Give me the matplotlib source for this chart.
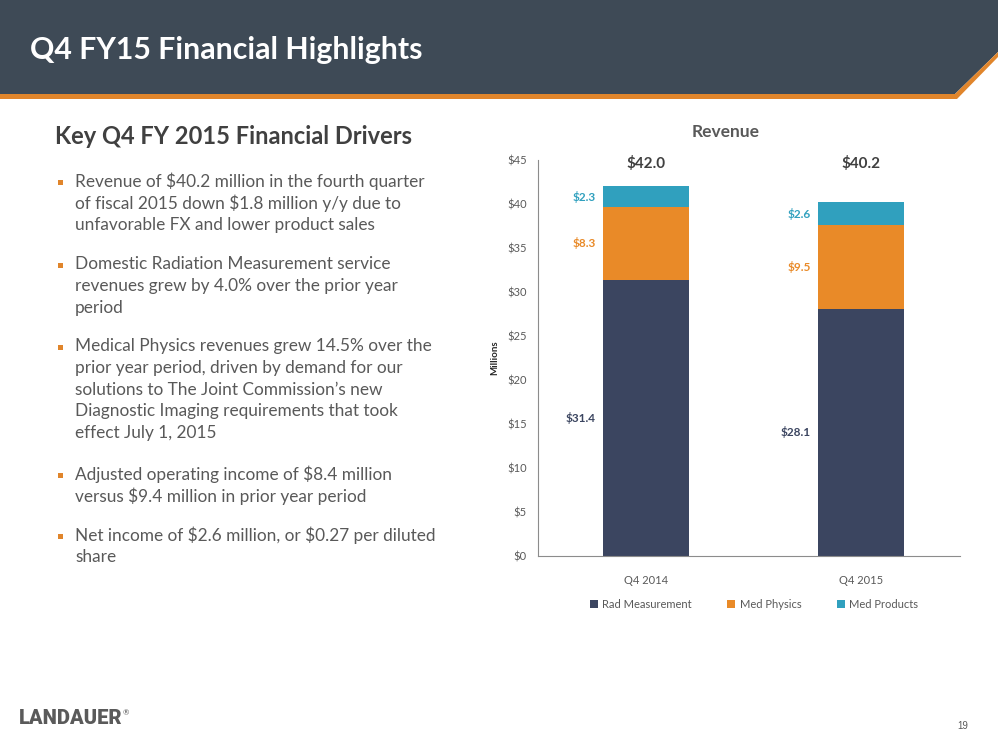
import matplotlib
matplotlib.use("Agg")
import matplotlib.pyplot as plt
from matplotlib.patches import Polygon, Patch, Rectangle
from matplotlib.transforms import offset_copy
import numpy as np

plt.rcParams['text.parse_math'] = False
plt.rcParams['font.family'] = ['Lato', 'DejaVu Sans']

# ---- data ----
categories = ["Q4 2014", "Q4 2015"]
series_names = ["Rad Measurement", "Med Physics", "Med Products"]
rad_measurement = [31.4, 28.1]
med_physics = [8.3, 9.5]
med_products = [2.3, 2.6]
totals = [42.0, 40.2]
yticks = [0, 5, 10, 15, 20, 25, 30, 35, 40, 45]

bullets = [
    ["Revenue of $40.2 million in the fourth quarter",
     "of fiscal 2015 down $1.8 million y/y due to",
     "unfavorable FX and lower product sales"],
    ["Domestic Radiation Measurement service",
     "revenues grew by 4.0% over the prior year",
     "period"],
    ["Medical Physics revenues grew 14.5% over the",
     "prior year period, driven by demand for our",
     "solutions to The Joint Commission\u2019s new",
     "Diagnostic Imaging requirements that took",
     "effect July 1, 2015"],
    ["Adjusted operating income of $8.4 million",
     "versus $9.4 million in prior year period"],
    ["Net income of $2.6 million, or $0.27 per diluted",
     "share"],
]

# ---- style ----
C_RAD = "#3B4560"
C_PHY = "#E98A28"
C_PRO = "#30A0BE"
C_BAND = "#3E4A56"
C_ORANGE = "#E0852B"
C_TEXT = "#595959"
C_DARK = "#404040"

W, H = 998, 739
fig = plt.figure(figsize=(W / 100, H / 100), dpi=100)

def fx(x):
    return x / W

def fy(y):
    return 1 - y / H

# header band
band = Polygon([(fx(0), fy(0)), (fx(998), fy(0)), (fx(998), fy(52)),
                (fx(955), fy(94)), (fx(0), fy(94))],
               closed=True, transform=fig.transFigure, facecolor=C_BAND,
               edgecolor='none', zorder=1)
fig.patches.append(band)
orange = Polygon([(fx(0), fy(94)), (fx(955), fy(94)), (fx(998), fy(52)),
                  (fx(998), fy(57)), (fx(957), fy(99)), (fx(0), fy(99))],
                 closed=True, transform=fig.transFigure, facecolor=C_ORANGE,
                 edgecolor='none', zorder=2)
fig.patches.append(orange)

fig.text(fx(30), fy(50), "Q4 FY15 Financial Highlights", color="white",
         fontsize=21.8, fontweight="bold", va="center", ha="left")

# left text
fig.text(fx(55), fy(136), "Key Q4 FY 2015 Financial Drivers", color=C_DARK,
         fontsize=17, fontweight="bold", va="center", ha="left")

line_h = 21.8
block_starts = [181, 264, 346, 474, 535]
for start, lines in zip(block_starts, bullets):
    fig.patches.append(Rectangle((fx(58), fy(start + 1) - 2.5 / H), 5 / W, 5 / H,
                                 transform=fig.transFigure, facecolor=C_ORANGE,
                                 edgecolor='none'))
    for i, ln in enumerate(lines):
        fig.text(fx(75), fy(start + i * line_h), ln, color=C_TEXT,
                 fontsize=12.4, va="center", ha="left")

# chart
ax = fig.add_axes([fx(538), fy(556), (960 - 538) / W, (556 - 160) / H])
x = np.arange(len(categories))
bw = 0.4
ax.bar(x, rad_measurement, bw, color=C_RAD, zorder=2)
ax.bar(x, med_physics, bw, bottom=rad_measurement, color=C_PHY, zorder=2)
bottom2 = np.array(rad_measurement) + np.array(med_physics)
ax.bar(x, med_products, bw, bottom=bottom2, color=C_PRO, zorder=2)

ax.set_xlim(-0.502, 1.46)
ax.set_ylim(0, 45)
ax.set_yticks(yticks)
ax.set_yticklabels([f"${v}" for v in yticks])
ax.set_xticks(x)
ax.set_xticklabels(categories)
ax.tick_params(axis='both', length=0, labelsize=8, labelcolor=C_TEXT)
ax.tick_params(axis='y', pad=8)
ax.tick_params(axis='x', pad=14)
for s in ['top', 'right']:
    ax.spines[s].set_visible(False)
for s in ['left', 'bottom']:
    ax.spines[s].set_color("#8C8C8C")
    ax.spines[s].set_linewidth(0.8)

tr = offset_copy(ax.transData, fig=fig, x=-7, y=0, units='dots')
for i in range(len(categories)):
    left = x[i] - bw / 2
    ax.text(left, rad_measurement[i] / 2, f"${rad_measurement[i]:.1f}",
            transform=tr, ha="right", va="center", fontsize=8.5,
            fontweight="bold", color=C_RAD)
    ax.text(left, rad_measurement[i] + med_physics[i] / 2, f"${med_physics[i]:.1f}",
            transform=tr, ha="right", va="center", fontsize=8.5,
            fontweight="bold", color=C_PHY)
    ax.text(left, bottom2[i] + med_products[i] / 2, f"${med_products[i]:.1f}",
            transform=tr, ha="right", va="center", fontsize=8.5,
            fontweight="bold", color=C_PRO)
    ax.text(x[i], 44.6, f"${totals[i]:.1f}", ha="center", va="center",
            fontsize=11, fontweight="bold", color=C_DARK)

ax.set_ylabel("Millions", fontsize=7, fontweight="bold", color="#262626",
              labelpad=6)

fig.text(fx(726), fy(132), "Revenue", ha="center", va="center",
         fontsize=12.5, fontweight="bold", color=C_TEXT)

handles = [Patch(facecolor=c, edgecolor='none') for c in (C_RAD, C_PHY, C_PRO)]
fig.legend(handles, series_names, loc="center", bbox_to_anchor=(fx(754), fy(604)),
           ncol=3, frameon=False, fontsize=8, handlelength=0.7, handleheight=0.7,
           handletextpad=0.4, columnspacing=3.2, labelcolor=C_TEXT)

# footer
fig.text(fx(19), fy(719), "LANDAUER", color="#5A5A5A", fontsize=14.5,
         fontweight="heavy", ha="left", va="center", family=["Roboto", "DejaVu Sans"])
fig.text(fx(123), fy(713), "\u00ae", color="#5A5A5A", fontsize=5.5,
         ha="left", va="center")
fig.text(fx(968), fy(726), "19", color=C_TEXT, fontsize=7, ha="right",
         va="center", family=["Liberation Sans", "DejaVu Sans"])

fig.savefig("out.png", dpi=100)
